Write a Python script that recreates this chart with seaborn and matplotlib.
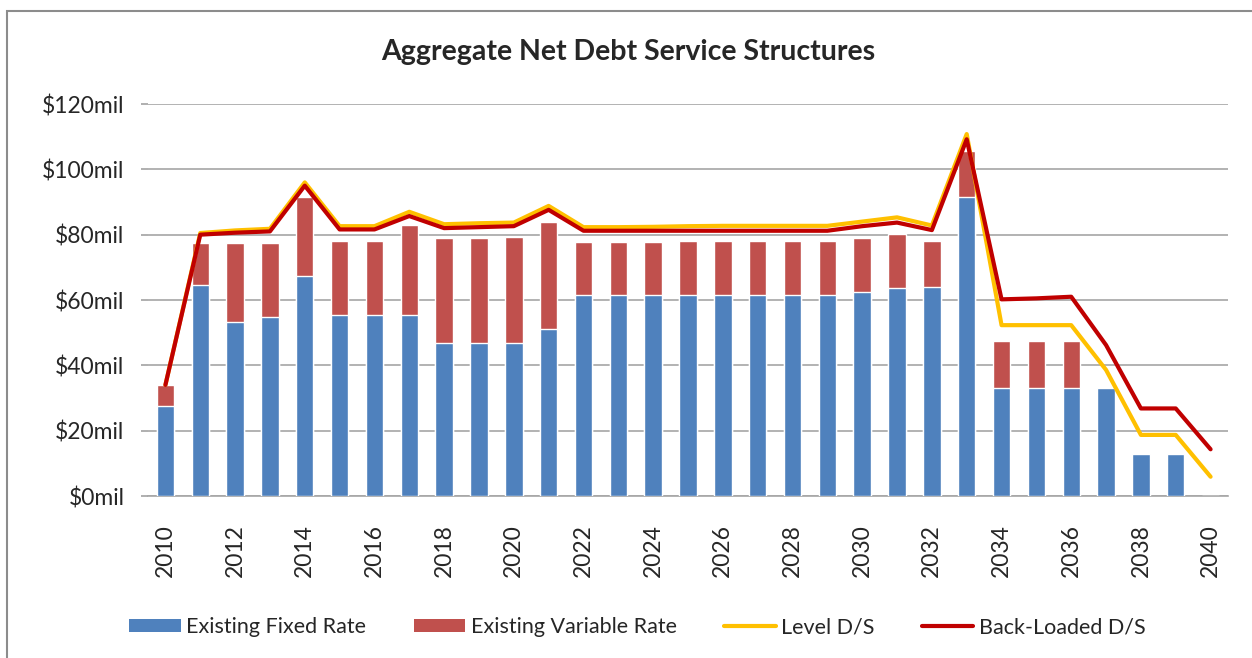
import numpy as np
import pandas as pd
import seaborn as sns
import matplotlib.pyplot as plt
from matplotlib.patches import Patch, Rectangle
from matplotlib.lines import Line2D

# values in $ millions
years = list(range(2010, 2041))
fixed_rate = [27.5, 64.5, 53.2, 54.7, 67.3, 55.5, 55.5, 55.5, 46.9, 46.9,
              46.9, 51.2, 61.6, 61.6, 61.6, 61.6, 61.6, 61.6, 61.6, 61.6,
              62.5, 63.7, 64.1, 91.4, 33.2, 33.2, 33.2, 33.2, 12.8, 12.8, 0.0]
variable_rate = [6.5, 12.8, 24.1, 22.6, 24.3, 22.7, 22.7, 27.5, 32.1, 32.1,
                 32.5, 32.8, 16.1, 16.1, 16.1, 16.5, 16.5, 16.5, 16.5, 16.5,
                 16.4, 16.5, 14.0, 14.2, 14.2, 14.2, 14.2, 0.0, 0.0, 0.0, 0.0]
level_ds = [34.0, 80.5, 81.3, 81.8, 96.0, 82.6, 82.6, 87.0, 83.2, 83.5,
            83.7, 88.8, 82.3, 82.3, 82.4, 82.6, 82.7, 82.7, 82.7, 82.7,
            84.0, 85.3, 82.8, 110.8, 52.3, 52.3, 52.3, 38.6, 18.7, 18.7, 5.9]
back_loaded_ds = [34.0, 80.0, 80.6, 81.0, 95.0, 81.6, 81.6, 85.7, 82.0, 82.3,
                  82.6, 87.6, 81.2, 81.2, 81.2, 81.2, 81.2, 81.2, 81.2, 81.2,
                  82.6, 83.7, 81.4, 109.2, 60.2, 60.5, 61.0, 46.2, 26.8, 26.8, 14.3]

df = pd.DataFrame({
    "year": years,
    "fixed": fixed_rate,
    "variable": variable_rate,
    "level": level_ds,
    "back": back_loaded_ds,
})
df["total"] = df["fixed"] + df["variable"]

BLUE, RED, YELLOW, DARKRED = "#4F81BD", "#C0504D", "#FFC000", "#C00000"

sns.set_theme(style="white")
plt.rcParams["font.family"] = ["Lato", "DejaVu Sans"]

fig = plt.figure(figsize=(12.52, 6.58), dpi=100)
ax = fig.add_axes([148 / 1252, 1 - 496 / 658, (1228 - 148) / 1252, (496 - 104) / 658])

# stacked bars: total in red, fixed part drawn over it in blue
sns.barplot(data=df, x="year", y="total", native_scale=True, width=0.5,
            color=RED, saturation=1, edgecolor="white", linewidth=1, ax=ax, zorder=2)
sns.barplot(data=df, x="year", y="fixed", native_scale=True, width=0.5,
            color=BLUE, saturation=1, edgecolor="white", linewidth=1, ax=ax, zorder=3)

sns.lineplot(data=df, x="year", y="level", color=YELLOW, lw=3, ax=ax, zorder=4)
sns.lineplot(data=df, x="year", y="back", color=DARKRED, lw=3, ax=ax, zorder=5)

ax.set_xlim(2009.5, 2040.5)
ax.set_ylim(0, 120)
ax.set_yticks(range(0, 121, 20))
ax.set_yticklabels([f"${v}mil" for v in range(0, 121, 20)], fontsize=16.5)
ax.set_xticks(range(2010, 2041, 2))
ax.set_xticklabels([str(y) for y in range(2010, 2041, 2)], rotation=90, fontsize=16.5)
ax.set_xlabel("")
ax.set_ylabel("")
ax.yaxis.grid(True, color="#A6A6A6", lw=1.2)
ax.set_axisbelow(True)
for side in ["left", "top", "right"]:
    ax.spines[side].set_visible(False)
ax.spines["bottom"].set_color("#A6A6A6")
ax.spines["bottom"].set_linewidth(1.2)
ax.tick_params(axis="y", length=5, color="#A6A6A6", pad=12, left=True)
ax.tick_params(axis="x", length=0, pad=20)

fig.text(0.502, 1 - 52 / 658, "Aggregate Net Debt Service Structures",
         ha="center", va="center", fontsize=20.5, fontweight="bold")

handles = [
    Patch(facecolor=BLUE, edgecolor="none"),
    Patch(facecolor=RED, edgecolor="none"),
    Line2D([], [], color=YELLOW, lw=3),
    Line2D([], [], color=DARKRED, lw=3),
]
labels = ["Existing Fixed Rate", "Existing Variable Rate", "Level D/S", "Back-Loaded D/S"]
fig.legend(handles, labels, loc="center", bbox_to_anchor=(0.509, 1 - 627 / 658),
           ncol=4, frameon=False, fontsize=15.5, handlelength=2.4, handleheight=0.55,
           handletextpad=0.25, columnspacing=2.2)

# outer chart border
fig.patches.append(Rectangle((7 / 1252, -0.1), 1.2, 1 - 11 / 658 + 0.1,
                             transform=fig.transFigure, fill=False,
                             edgecolor="#8C8C8C", lw=1.5, clip_on=False))

plt.savefig("out.png", dpi=100)
